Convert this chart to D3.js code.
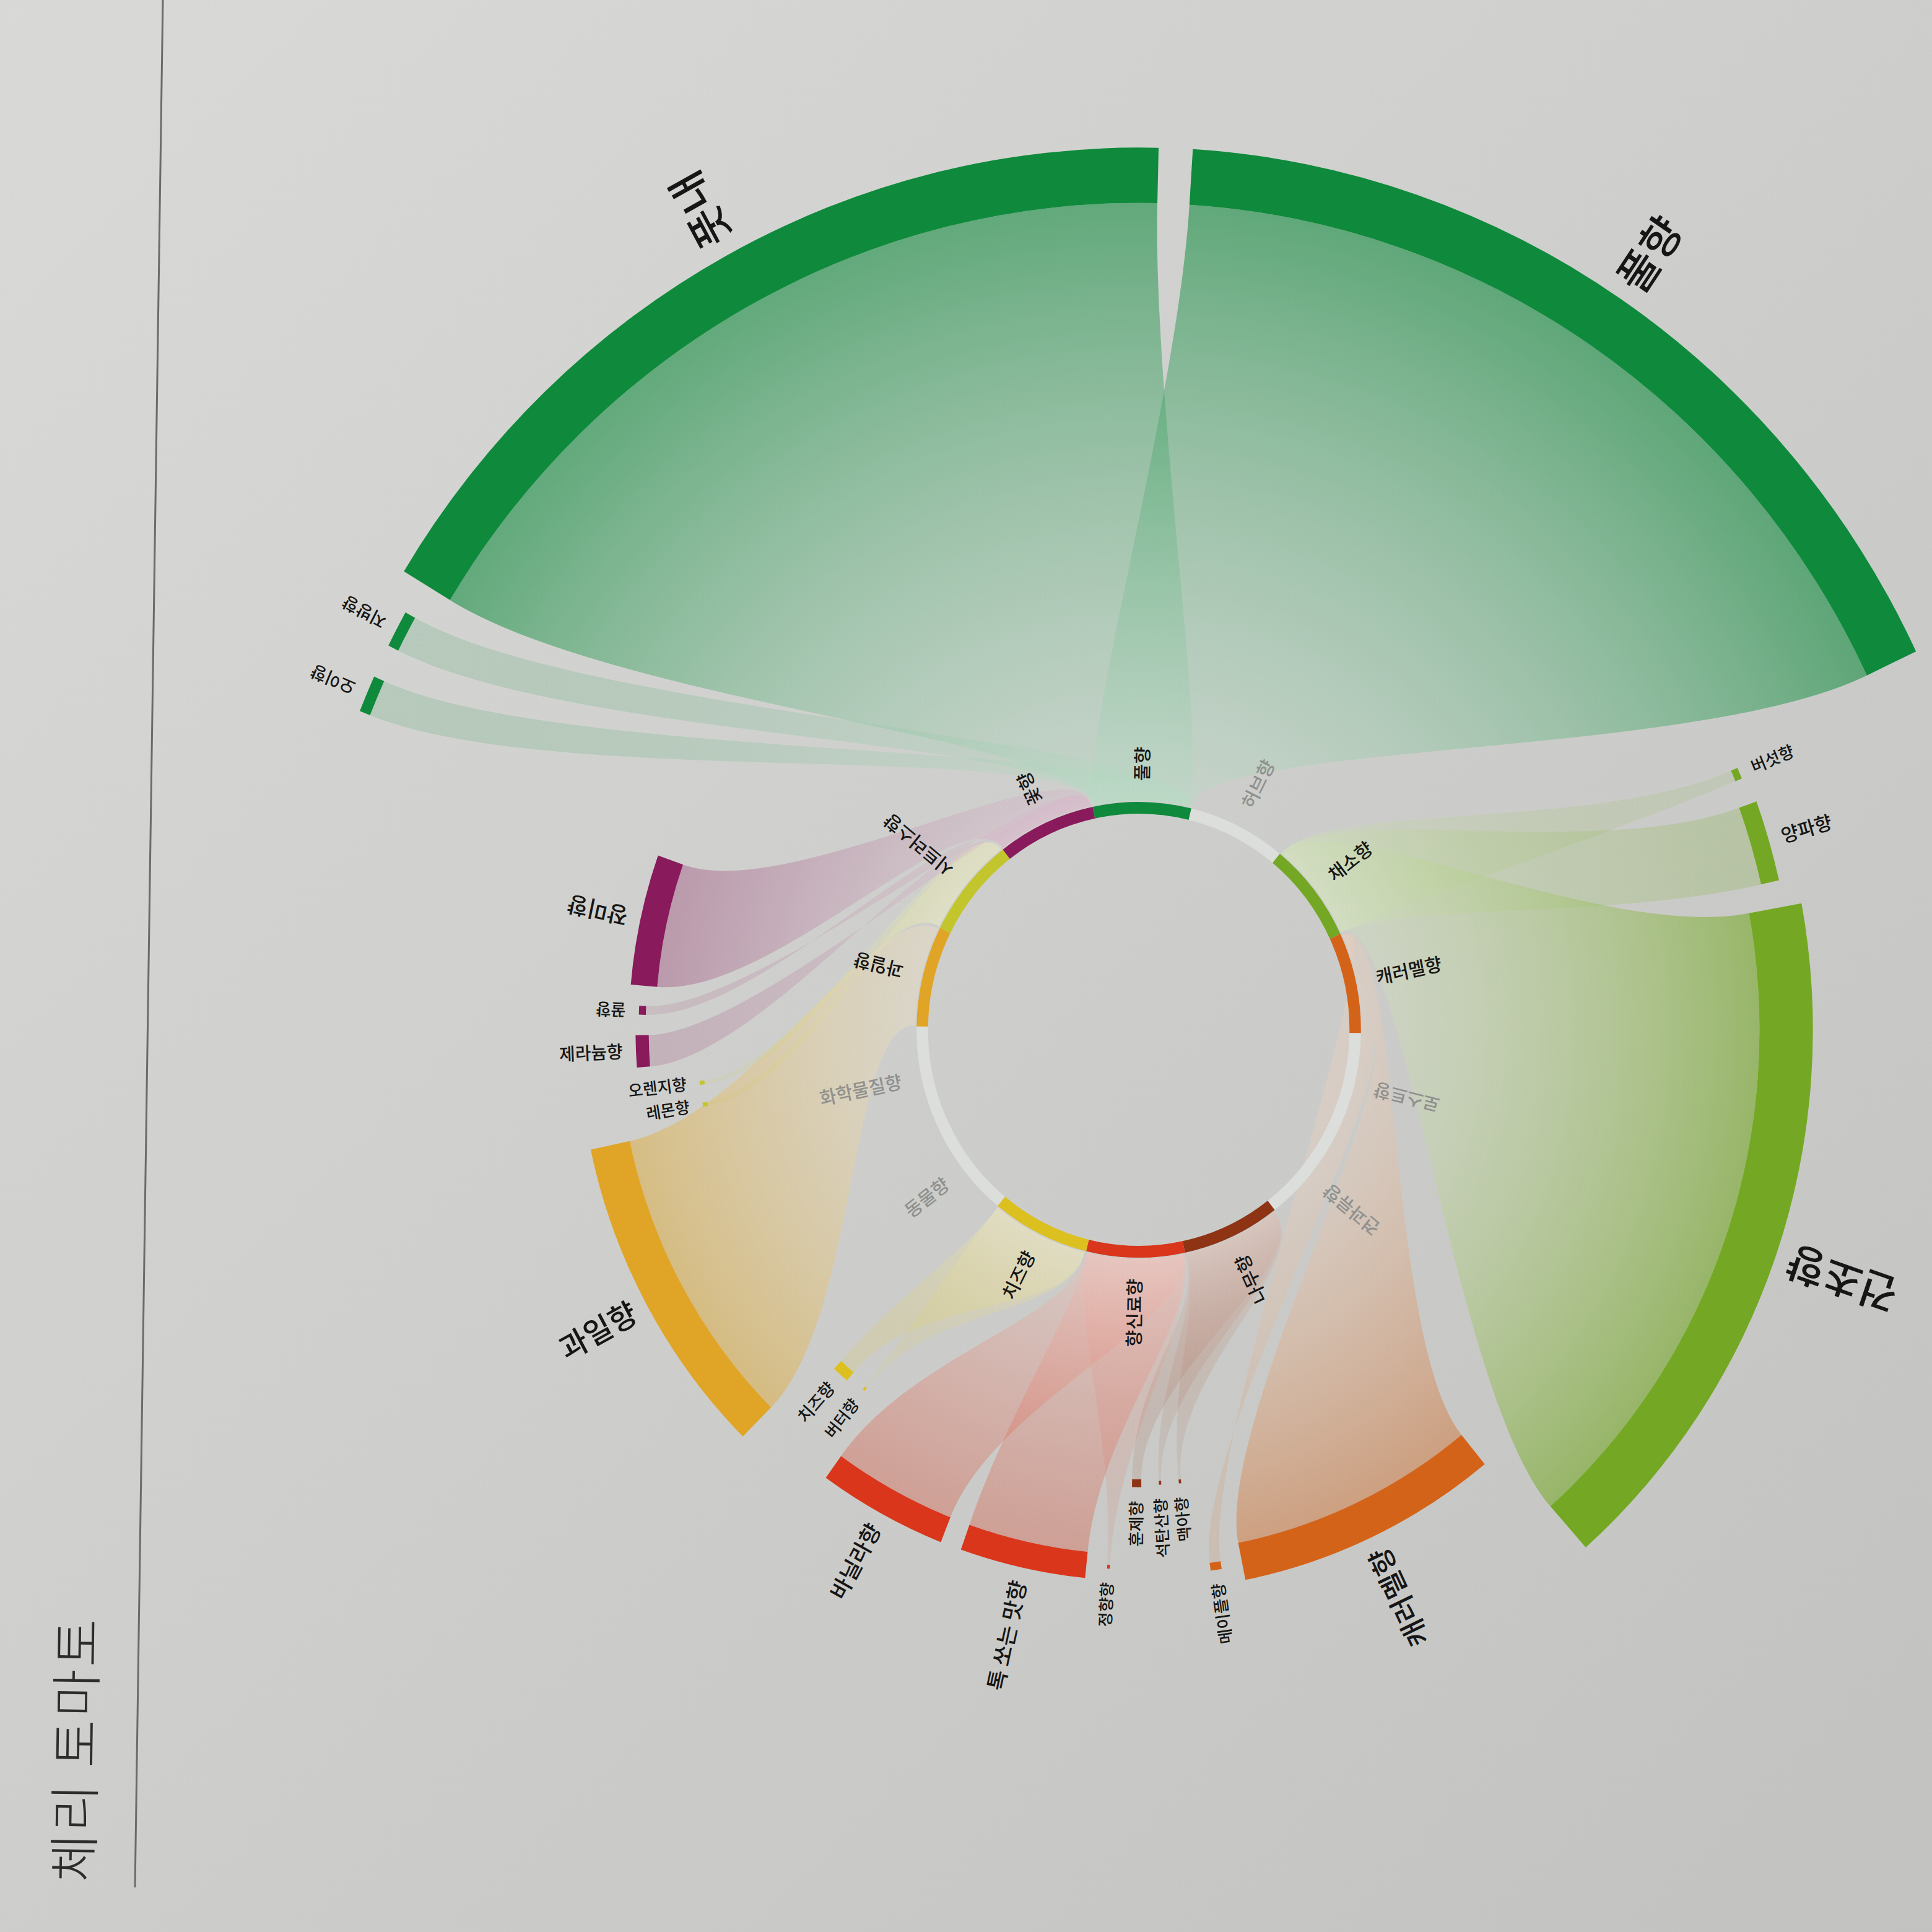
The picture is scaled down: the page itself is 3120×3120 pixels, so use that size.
<!DOCTYPE html>
<html>
<head>
<meta charset="utf-8">
<script src="https://cdn.jsdelivr.net/npm/d3@7"></script>
<style>
  html, body { margin: 0; padding: 0; background: #cfd0cd; }
  svg { display: block; }
</style>
</head>
<body>
<div id="chart"></div>
<script>
// inner ring: flavour families, clockwise from the top
const categories = ["풀향", "허브향", "채소향", "캐러멜향", "로스트향", "견과류향", "나무향",
                    "향신료향", "치즈향", "동물향", "화학물질향", "과일향", "시트러스향", "꽃향"];

// outer arcs: single aromas, in drawing order, with their family and strength
const aromaNames = ["오이향", "지방향", "풋내", "풀향", "버섯향", "양파향", "건초향", "캐러멜향", "메이플향",
                    "맥아향", "석탄산향", "훈제향", "정향향", "톡 쏘는 맛향", "바닐라향", "버터향", "치즈향",
                    "과일향", "레몬향", "오렌지향", "제라늄향", "꿀향", "장미향"];
const aromaGroups = ["풀향", "풀향", "풀향", "풀향", "채소향", "채소향", "채소향", "캐러멜향", "캐러멜향",
                     "나무향", "나무향", "나무향", "향신료향", "향신료향", "향신료향", "치즈향", "치즈향",
                     "과일향", "시트러스향", "시트러스향", "꽃향", "꽃향", "꽃향"];
const aromaValues = [2.5, 2.5, 60, 61, 1, 7, 59, 28, 1.2,
                     0.3, 0.3, 1.2, 0.3, 13.6, 14, 0.3, 2.2,
                     33, 0.5, 0.5, 3.6, 1, 14.5];

const title = "체리 토마토";

const palette = {
  "풀향": "#0f8a3c", "채소향": "#74a824", "캐러멜향": "#d4631a", "로스트향": "#3b1c12",
  "나무향": "#8e3414", "향신료향": "#d9361c", "치즈향": "#dcc020", "과일향": "#e0a526",
  "시트러스향": "#c2c62c", "꽃향": "#891a5c"
};
const muted = "#dcdedb", mutedText = "#8f918f";
const font = "'Noto Sans CJK KR', 'Noto Sans', sans-serif";

const W = 3120, H = 3120, cx = 1839, cy = 1663, tilt = 0.85, squeeze = 0.975;
const ringInner = 349, ringOuter = 368, labelR = 402;

const toRad = d => d * Math.PI / 180;
const pt = (a, r) => [r * Math.sin(a), -r * Math.cos(a)];

const svg = d3.select("#chart").append("svg")
    .attr("width", W).attr("height", H)
    .attr("viewBox", [0, 0, W, H]);
const defs = svg.append("defs");

const paper = defs.append("linearGradient").attr("id", "paper")
    .attr("x1", 0).attr("y1", 0).attr("x2", 1).attr("y2", 1);
paper.append("stop").attr("offset", 0).attr("stop-color", "#d9dad7");
paper.append("stop").attr("offset", 1).attr("stop-color", "#c2c3c0");
svg.append("rect").attr("width", W).attr("height", H).attr("fill", "url(#paper)");

// the printed page is photographed a little askew
const chart = svg.append("g")
    .attr("transform", `translate(${cx},${cy}) scale(${squeeze},1) rotate(${tilt})`);

// layouts
const innerArcs = d3.pie().value(1).sort(null)
    .startAngle(-Math.PI / categories.length)
    .endAngle(2 * Math.PI - Math.PI / categories.length)(categories);
const catArc = new Map(innerArcs.map(d => [d.data, d]));

const aromas = aromaNames.map((name, i) => ({ name, group: aromaGroups[i], value: aromaValues[i] }));
const totals = d3.rollup(aromas, v => d3.sum(v, d => d.value), d => d.group);

const rScale = d3.scaleLinear().domain([0, d3.max(totals.values())]).range([723, 1380]);
const tScale = d3.scaleSqrt().domain([0, d3.max(aromaValues)]).range([0, 90]);
const fScale = d3.scaleLinear().domain([0, d3.max(aromaValues)]).range([26, 70]);
const aScale = d3.scaleSqrt().domain([0, d3.max(aromaValues)]).range([0.03, 0.58]);

const pad = toRad(2.28), start = toRad(289.76);
const outerArcs = d3.pie().value(d => d.value).sort(null).padAngle(pad)
    .startAngle(start).endAngle(start + 2 * Math.PI)(aromas)
    .map(d => ({
      ...d,
      a0: d.startAngle + pad / 2,
      a1: d.endAngle - pad / 2,
      rc: rScale(totals.get(d.data.group)),
      t: Math.max(6, tScale(d.data.value))
    }));

// ribbons from each aroma to its whole family segment
const ribbonPath = d => {
  const seg = catArc.get(d.data.group);
  const b0 = seg.startAngle + toRad(0.3), b1 = seg.endAngle - toRad(0.3);
  const R = d.rc - d.t / 2, r = ringOuter + 2;
  const p = d3.path();
  p.moveTo(...pt(d.a0, R));
  p.arc(0, 0, R, d.a0 - Math.PI / 2, d.a1 - Math.PI / 2);
  p.bezierCurveTo(...pt(d.a1, R * 0.76), ...pt(b1, r * 1.3), ...pt(b1, r));
  p.arc(0, 0, r, b1 - Math.PI / 2, b0 - Math.PI / 2, true);
  p.bezierCurveTo(...pt(b0, r * 1.3), ...pt(d.a0, R * 0.76), ...pt(d.a0, R));
  p.closePath();
  return p.toString();
};

outerArcs.forEach((d, i) => {
  const R = d.rc - d.t / 2, c = palette[d.data.group];
  const g = defs.append("radialGradient").attr("id", "rib" + i)
      .attr("gradientUnits", "userSpaceOnUse")
      .attr("cx", 0).attr("cy", 0).attr("r", R);
  g.append("stop").attr("offset", ringOuter / R)
      .attr("stop-color", d3.interpolateRgb(c, "#ffffff")(0.7)).attr("stop-opacity", 0.3);
  g.append("stop").attr("offset", 1)
      .attr("stop-color", c).attr("stop-opacity", aScale(d.data.value));
});

chart.append("g").attr("class", "ribbons")
  .selectAll("path")
  .data(outerArcs)
  .join("path")
    .attr("d", ribbonPath)
    .attr("fill", (d, i) => `url(#rib${i})`);

// inner ring
const ringArc = d3.arc().innerRadius(ringInner).outerRadius(ringOuter);
chart.append("g").attr("class", "ring")
  .selectAll("path")
  .data(innerArcs)
  .join("path")
    .attr("d", ringArc)
    .attr("fill", d => totals.has(d.data) ? palette[d.data] : muted);

// outer arcs (gaps are already taken out of a0/a1)
const bandArc = d3.arc()
    .innerRadius(d => d.rc - d.t / 2)
    .outerRadius(d => d.rc + d.t / 2)
    .startAngle(d => d.a0)
    .endAngle(d => d.a1)
    .padAngle(0);
chart.append("g").attr("class", "bands")
  .selectAll("path")
  .data(outerArcs)
  .join("path")
    .attr("d", bandArc)
    .attr("fill", d => palette[d.data.group]);

// radial labels, turned so they never stand upside down on the page
const place = (sel, angle, radius) => {
  sel.each(function (d) {
    const a = angle(d), deg = ((a * 180 / Math.PI) % 360 + 360) % 360;
    const flip = deg > 90 && deg < 270;
    const [x, y] = pt(a, radius(d));
    d3.select(this)
      .attr("transform", `translate(${x},${y}) rotate(${flip ? deg + 90 : deg - 90})`)
      .attr("text-anchor", flip ? "end" : "start");
  });
};

chart.append("g").attr("class", "inner-labels")
  .selectAll("text")
  .data(innerArcs)
  .join("text")
    .text(d => d.data)
    .attr("dy", "0.35em")
    .attr("font-family", font)
    .attr("font-size", 30)
    .attr("font-weight", 500)
    .attr("fill", d => totals.has(d.data) ? "#161616" : mutedText)
    .call(place, d => (d.startAngle + d.endAngle) / 2, () => labelR);

chart.append("g").attr("class", "outer-labels")
  .selectAll("text")
  .data(outerArcs)
  .join("text")
    .text(d => d.data.name)
    .attr("dy", "0.35em")
    .attr("font-family", font)
    .attr("font-size", d => fScale(d.data.value))
    .attr("font-weight", 500)
    .attr("fill", "#161616")
    .call(place, d => (d.a0 + d.a1) / 2, d => d.rc + d.t / 2 + 22);

// page furniture
svg.append("line")
    .attr("x1", 263).attr("y1", 0).attr("x2", 218).attr("y2", 3048)
    .attr("stroke", "#6b6b6b").attr("stroke-width", 3);

svg.append("text")
    .text(title)
    .attr("transform", `translate(150,3040) rotate(${-90 + tilt})`)
    .attr("font-family", font)
    .attr("font-size", 84)
    .attr("font-weight", 300)
    .attr("letter-spacing", 4)
    .attr("fill", "#2c2c2c");
</script>
</body>
</html>
